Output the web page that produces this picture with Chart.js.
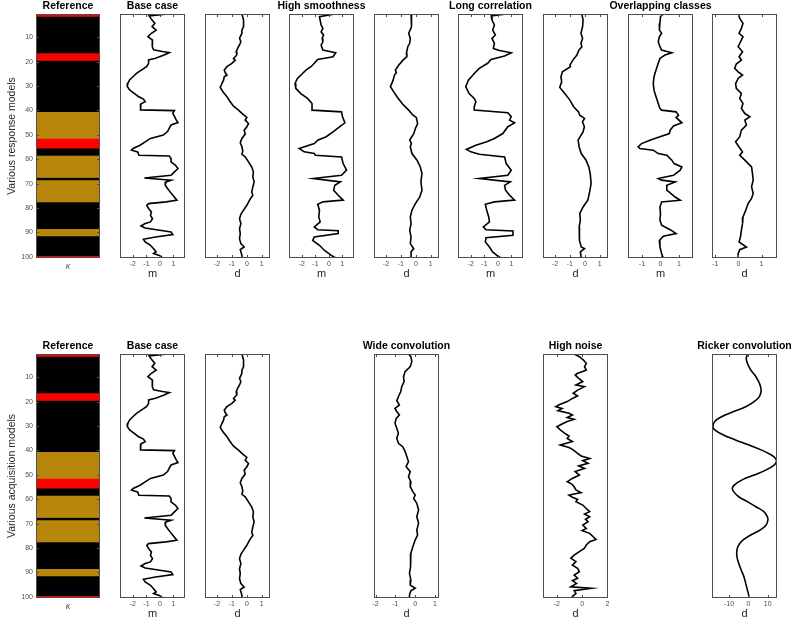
<!DOCTYPE html>
<html>
<head>
<meta charset="utf-8">
<script src="https://cdn.jsdelivr.net/npm/chart.js@4.4.1/dist/chart.umd.min.js"></script>
<style>
  body { margin: 0; background: #fff; overflow: hidden; }
  #fig { position: relative; width: 791px; height: 621px; }
  #fig canvas { position: absolute; }
</style>
</head>
<body>
<div id="fig"></div>
<script>
// reference class of each model row 1..100 (0 black, 1 gold, 2 red)
const kappa = [
  2, 0, 0, 0, 0, 0, 0, 0, 0, 0, 0, 0, 0, 0, 0, 0, 2, 2, 2, 0,
  0, 0, 0, 0, 0, 0, 0, 0, 0, 0, 0, 0, 0, 0, 0, 0, 0, 0, 0, 0,
  1, 1, 1, 1, 1, 1, 1, 1, 1, 1, 1, 2, 2, 2, 2, 0, 0, 0, 1, 1,
  1, 1, 1, 1, 1, 1, 1, 0, 1, 1, 1, 1, 1, 1, 1, 1, 1, 0, 0, 0,
  0, 0, 0, 0, 0, 0, 0, 0, 1, 1, 1, 0, 0, 0, 0, 0, 0, 0, 0, 2
];
const classColors = ["#000000", "#b8860b", "#ff0000"];
const depthTicks = [10, 20, 30, 40, 50, 60, 70, 80, 90, 100];

// [depth, value] pairs
const baseM = [[0.6,0.4],[1.3,-0.8],[3,-0.58],[4.3,-0.38],[5.7,-0.58],[7.1,-0.28],[8.4,-0.63],[9.8,-0.89],[11.2,-0.55],[12.5,-0.58],[13.9,-0.55],[15.2,-0.47],[15.9,0.18],[16.3,0.69],[17.3,0.31],[18.6,-0.33],[19.3,-0.84],[20.7,-0.84],[22,-0.97],[23.4,-1.35],[24.8,-1.73],[26.1,-1.98],[27.5,-2.24],[28.9,-2.37],[30.2,-2.41],[31.6,-2.24],[33,-1.9],[34.3,-1.6],[35.4,-1.22],[36.4,-1.09],[37.3,-1.4],[38.4,-1.47],[39.8,-1.4],[40.1,1.07],[41.2,0.95],[42.5,1.07],[43.9,1.2],[45,1.33],[46,0.82],[47.3,0.69],[48.7,0.56],[50.1,0.25],[51.5,-0.7],[52.9,-1.09],[54.3,-1.47],[55.6,-1.98],[56.3,-2.1],[57,-1.65],[58.4,-1.55],[58.7,0.69],[59.7,0.82],[61.1,0.82],[62.5,1.15],[63.8,1.33],[65.2,1.07],[66.6,0.82],[67.7,-1.15],[68.6,0.82],[69.3,0.44],[70.7,0.39],[72,0.56],[73.4,0.75],[74.8,0.95],[76.8,1.25],[77.5,0.44],[78.2,-0.84],[78.9,-0.97],[80.2,-0.84],[81.6,-0.63],[83,-0.7],[84.4,-0.55],[85.7,-0.7],[86.4,-1.09],[87.4,-1.4],[88.2,-1.09],[89.8,0.82],[90.9,0.95],[91.9,-0.33],[92.8,-1.22],[93.9,-1.09],[95.3,-0.7],[96.7,-0.47],[98,-0.28],[98.7,-0.47],[99.7,0.05],[100.5,0.18]];
const baseD = [[0.5,-0.33],[3,-0.22],[5.7,-0.22],[7.1,-0.33],[8.4,-0.33],[10.5,-0.49],[11.9,-0.4],[13.2,-0.49],[14.6,-0.62],[16,-0.71],[17.3,-0.67],[18.7,-0.89],[19.4,-0.78],[20.7,-1.0],[22.1,-1.33],[23.5,-1.51],[24.6,-1.44],[25.5,-1.33],[26.2,-1.51],[27.6,-1.56],[29,-1.67],[30.6,-1.78],[32.4,-1.6],[34.4,-1.33],[36.5,-1.11],[38.3,-0.89],[39.9,-0.56],[41.5,-0.27],[42.9,0],[44,-0.11],[45.4,0.11],[46.7,0],[48.1,-0.18],[49.7,-0.11],[51.5,-0.33],[53.3,-0.44],[54.9,-0.33],[56.6,-0.27],[58,-0.33],[59,-0.11],[61.1,0.11],[63.2,0.33],[65.2,0.44],[67.3,0.4],[69.3,0.49],[71.4,0.4],[73.4,0.33],[74.8,0.4],[76.8,0.18],[78.9,0],[80.9,-0.22],[82.6,-0.4],[84.4,-0.49],[86.4,-0.4],[88.5,-0.49],[90.5,-0.44],[92.6,-0.49],[94.6,-0.4],[96,-0.18],[97.1,-0.44],[99.4,-0.33],[100.5,-0.33]];
const smoothM = [[0.5,0.43],[1.6,-0.7],[3,-0.65],[5,-0.58],[6.4,-0.45],[7.8,-0.58],[9.1,-0.4],[10.5,-0.5],[11.9,-0.45],[13.2,-0.58],[15.3,-0.45],[16.4,0.5],[18,0.3],[19.1,-0.83],[20.7,-1.08],[22.1,-1.33],[23.5,-1.7],[24.9,-1.95],[26.9,-2.33],[29,-2.5],[31,-2.45],[33.1,-2.08],[35.1,-1.58],[37.2,-1.25],[39.9,-1.25],[40.6,0.93],[42.6,1],[45.1,1.18],[46.7,0.8],[48.8,0.3],[50.8,-0.2],[52.2,-0.83],[53.6,-1.08],[55.6,-2.2],[57,-1.83],[57.7,-1.08],[58.4,-1],[59.1,0.93],[61.8,1.05],[64.5,1.3],[66.6,0.93],[67.9,-1.15],[69.3,0.85],[70.7,0.43],[72.7,0.35],[74.8,0.68],[76.8,1.05],[77.5,-0.45],[78.5,-0.83],[80.9,-0.7],[83.7,-0.75],[85.7,-0.65],[87.8,-1.08],[88.9,-0.83],[89.3,0.68],[90.5,0.68],[91.9,-1.08],[93.3,-1.2],[95.3,-0.7],[97.4,-0.33],[99.4,0.18],[100.5,0.5]];
const smoothD = [[0.5,-0.32],[3,-0.26],[5.7,-0.32],[7,-0.38],[8.4,-0.48],[10.5,-0.37],[12.5,-0.41],[13.9,-0.54],[16.6,-0.63],[18,-0.6],[19.4,-0.86],[21.4,-1.14],[23.5,-1.37],[24.5,-1.3],[25.5,-1.43],[27.6,-1.52],[30.3,-1.7],[32.4,-1.48],[34.4,-1.26],[37.2,-0.92],[39.9,-0.48],[42,-0.19],[42.9,0.03],[45.4,0.12],[47.4,-0.03],[49.5,-0.14],[52.2,-0.41],[53.5,-0.3],[55,-0.37],[57.7,-0.26],[60.4,0.08],[63.2,0.3],[65.9,0.41],[69.3,0.34],[72.7,0.41],[75.5,0.26],[78.2,-0.03],[80.9,-0.26],[83.7,-0.37],[86.4,-0.32],[89.1,-0.41],[91.9,-0.32],[94.6,-0.37],[96.7,-0.14],[98,-0.32],[100.5,-0.32]];
const longM = [[0.5,0.6],[1.3,-0.5],[3,-0.44],[5,-0.26],[7.1,-0.39],[9.1,-0.19],[10.5,-0.44],[12.5,-0.26],[14.6,-0.34],[15.5,0.11],[16.4,0.98],[17.7,0.49],[19.1,-0.51],[20.7,-0.76],[22.8,-1.38],[24.9,-1.75],[27.6,-2.18],[30.3,-2.38],[33.1,-2.13],[35.1,-1.75],[36.5,-1.63],[38.5,-1.75],[39.9,-1.75],[41,0.73],[42.6,0.98],[44,0.86],[45.1,1.23],[46.7,0.73],[49.5,0.36],[51.5,-0.26],[52.9,-0.83],[54.3,-1.63],[56,-2.33],[57,-2],[58,-1.38],[59.1,0.49],[61.8,0.61],[64.5,0.98],[66.6,0.73],[67.9,-1.38],[69.3,0.91],[70.7,0.49],[72.7,0.56],[74.8,0.86],[76.8,1.23],[77.5,-0.26],[78.5,-0.93],[80.9,-0.83],[83.7,-0.68],[85.7,-0.63],[87.8,-1.08],[88.9,-0.88],[89.4,1.11],[91.2,1.11],[92.2,-0.88],[93.9,-0.93],[96,-0.63],[98,-0.39],[99.8,0],[100.5,0.24]];
const longD = [[0.5,-0.2],[3,-0.12],[5.7,-0.15],[8.4,-0.26],[10.5,-0.15],[12.5,-0.26],[13.9,-0.2],[15.3,-0.4],[17.3,-0.53],[19.4,-0.8],[21.4,-1.0],[22.1,-0.96],[24.2,-1.5],[26.2,-1.6],[28.3,-1.55],[30.6,-1.68],[33.1,-1.34],[35.8,-1.0],[38.5,-0.75],[40.6,-0.42],[42,-0.34],[43.3,-0.02],[44.7,-0.16],[46.7,-0.03],[48.8,-0.12],[52.2,-0.45],[55,-0.38],[57.7,-0.24],[60.4,0.08],[63.2,0.27],[65.9,0.36],[70,0.42],[73.4,0.32],[76.8,0.2],[79.6,-0.12],[82.3,-0.34],[85,-0.3],[87.8,-0.38],[90.5,-0.34],[93.3,-0.38],[96,-0.24],[96.7,-0.02],[98,-0.3],[100.5,-0.24]];
const overlapM = [[0.5,0.15],[1.6,0],[4.3,-0.03],[7.1,-0.06],[8.4,0.06],[9.8,-0.06],[11.9,-0.12],[13.9,-0.03],[15.3,0.06],[16.4,0.61],[17.3,0.24],[18.7,-0.03],[20.7,-0.12],[23.5,-0.24],[26.2,-0.35],[29,-0.39],[31.7,-0.35],[34.4,-0.24],[37.2,-0.12],[39.2,-0.03],[39.9,0.06],[40.6,0.84],[42,0.97],[42.9,0.84],[45.1,1.15],[46.4,0.7],[48.1,0.52],[49.5,0.48],[50.8,-0.03],[52.2,-0.57],[53.6,-1.02],[54.9,-1.2],[55.6,-1.11],[56.3,-0.39],[57.7,-0.12],[58.4,0.34],[60.4,0.61],[61.8,0.73],[63.2,1.15],[64.5,1.06],[66.6,0.7],[67.9,-0.12],[68.6,0.06],[69.3,0.79],[70.7,0.34],[72.7,0.34],[75.5,0.79],[76.8,1.06],[77.5,0.06],[79.6,-0.03],[82.3,0],[85,-0.03],[87.1,0.06],[88.9,0.52],[90.5,0.84],[91.6,0.15],[93.3,-0.06],[96,-0.03],[98.7,0.06],[100.5,0.15]];
const overlapD = [[0.5,0],[2.3,0.06],[4.3,0.2],[6.4,0.13],[8.4,0.03],[9.8,0.2],[11.9,0.09],[13.9,-0.01],[16,0.18],[18,0.03],[19.4,0.13],[21,-0.09],[22.8,-0.16],[24.2,-0.01],[25.5,0.18],[26.9,-0.01],[29,-0.12],[31,-0.09],[33.1,0.13],[35.1,0.06],[37.2,0.2],[39.2,0.13],[41.3,0.28],[42.6,0.5],[44,0.28],[46,0.35],[48.1,0.13],[50.8,0.06],[52.9,-0.12],[55,0.03],[57,0.18],[58.4,0.06],[60.4,0.28],[63.2,0.57],[65.9,0.61],[68.6,0.64],[71.3,0.57],[74.1,0.64],[76.1,0.57],[78.2,0.42],[80.9,0.32],[83.7,0.2],[86.4,0.18],[89.1,0.13],[91.9,0.09],[93.9,0.03],[96,0.35],[97.1,0.06],[98.7,-0.01],[100.5,-0.01]];
const wideD = [[0.5,-0.34],[1.6,-0.22],[3.6,-0.17],[5.7,-0.25],[7.7,-0.51],[9.8,-0.59],[11.8,-0.56],[13.9,-0.68],[15.9,-0.73],[18,-0.85],[19.6,-0.93],[21.4,-0.8],[22.8,-1.02],[24.1,-0.93],[25.5,-0.8],[26.9,-0.96],[28.9,-1.02],[30.9,-0.93],[33,-0.85],[35,-0.93],[37.1,-0.85],[38.5,-0.63],[40.5,-0.51],[42.6,-0.42],[44.6,-0.34],[46.7,-0.46],[48.7,-0.25],[50.8,-0.34],[52.8,-0.22],[54.9,-0.25],[56.9,-0.12],[58.3,0],[59.7,-0.08],[61.7,0.08],[64.4,0.17],[67.2,0.08],[69.9,0.17],[72.6,0.08],[74.7,0.12],[76.7,0],[79.5,-0.12],[82.2,-0.22],[84.9,-0.25],[87.7,-0.22],[90.4,-0.29],[93.1,-0.22],[95.2,-0.25],[96.5,0],[97.5,-0.22],[99.3,-0.29],[100.5,-0.29]];
const noiseD = [[0.5,-0.63],[1.6,-0.22],[3,0.11],[4.3,0.33],[5.7,0.19],[7.1,0.33],[7.7,0.05],[8.4,-0.36],[9.1,-0.55],[10.5,-0.27],[11.8,0.05],[13.2,-0.49],[13.9,0.19],[15.3,-0.36],[16.6,-0.71],[17.7,-0.36],[18.7,-0.77],[20,-1.18],[21.4,-1.86],[22.1,-2.08],[22.8,-1.59],[23.7,-1.92],[24.8,-1.04],[25.5,-0.77],[26.5,-1.18],[27.3,-0.63],[28.2,-1.18],[29.2,-1.59],[30.3,-2.0],[31.6,-1.73],[33,-1.37],[34.1,-1.04],[35.1,-1.18],[36.4,-0.77],[37.8,-1.73],[38.8,-1.04],[39.8,-0.71],[41.2,-0.36],[42.3,-0.08],[43.3,0.6],[44.2,0.05],[45.3,0.47],[46.4,-0.27],[47.4,0.19],[48.7,-0.55],[50.1,-0.22],[51.5,-0.77],[52.8,-1.18],[53.8,-0.82],[54.9,-0.63],[56.2,-0.49],[57.3,-0.08],[58.3,-1.04],[59.2,-0.77],[60.1,-0.36],[61,-0.49],[62.4,0.05],[63.8,0.33],[65.1,0.6],[66.1,0.19],[67.2,0.6],[68.3,0.27],[69.2,0.47],[70.6,0.05],[72,0.33],[72.9,0],[74,0.6],[75.4,0.88],[76.5,1.1],[77.4,0.6],[78.8,0.33],[80.1,0.19],[81.5,-0.22],[82.9,-0.63],[84.2,-0.9],[85.6,-0.49],[87,-0.77],[88.3,-0.36],[89.7,-0.22],[91.1,-0.63],[92.4,-0.36],[93.4,-0.77],[94.5,-0.44],[95.9,-0.9],[96.5,0.74],[97.5,-0.63],[98.6,-0.49],[99.9,-0.77],[100.5,-0.82]];
const rickerD = [[0.5,-0.5],[2.3,-1.1],[4.3,-0.5],[7,1.2],[9.8,3.9],[12.5,5.7],[15.3,6.6],[18,5.7],[20,3],[22.1,-1.4],[24.1,-7.6],[26.2,-13.8],[28.2,-17.4],[30.3,-18.3],[31.6,-17.4],[33.7,-12.9],[35.7,-6.7],[37.8,0.4],[39.8,6.6],[41.9,11.9],[43.3,14],[44.6,14.5],[46,13.3],[48,9.2],[50.1,3],[52.1,-3.2],[54.2,-7.3],[55.6,-8.3],[56.9,-7.6],[59,-5],[61,-0.5],[63.1,3.9],[65.1,8],[67.2,9.8],[68.5,10.1],[70.6,9.2],[72.6,6.2],[74.7,1.2],[76.7,-2.7],[78.8,-5],[80.8,-5.9],[83.6,-5.9],[86.3,-5],[89,-3.7],[91.8,-2.3],[94.5,-1.4],[97.2,-0.5],[100,0.4]];

const mTicks = [-2, -1, 0, 1];
const dTicks = [-2, -1, 0, 1];
const overlapTicks = [-1, 0, 1];
const noiseTicks = [-2, 0, 2];
const rickerTicks = [-10, 0, 10];

// layout of the figure
const colLeft = [36, 120, 205, 289, 374, 458, 543, 628, 712];
const rowTop = [14, 354];
const boxH = 244;
const axisH = 23;
const side = 50;
const family = "'Liberation Sans', Arial, sans-serif";
const boxColor = "#4d4d4d";
const fig = document.getElementById("fig");

const framePlugin = {
  id: "frame",
  afterDraw(chart) {
    const ctx = chart.ctx;
    const a = chart.chartArea;
    ctx.save();
    ctx.strokeStyle = boxColor;
    ctx.lineWidth = 1;
    ctx.strokeRect(Math.round(a.left) + 0.5, Math.round(a.top) + 0.5,
      Math.round(a.right - a.left) - 1, Math.round(a.bottom - a.top) - 1);
    ctx.beginPath();
    const x = chart.scales.x;
    if (x.options.ticks.display) {
      x.ticks.forEach(t => {
        const px = Math.round(x.getPixelForValue(t.value)) + 0.5;
        ctx.moveTo(px, a.bottom); ctx.lineTo(px, a.bottom - 3);
        ctx.moveTo(px, a.top); ctx.lineTo(px, a.top + 3);
      });
    }
    const y = chart.scales.y;
    if (y.options.ticks.display) {
      y.ticks.forEach(t => {
        const py = Math.round(y.getPixelForValue(t.value)) + 0.5;
        ctx.moveTo(a.left, py); ctx.lineTo(a.left + 3, py);
        ctx.moveTo(a.right, py); ctx.lineTo(a.right - 3, py);
      });
    }
    ctx.stroke();
    ctx.restore();
  }
};

function addCanvas(left, top, w, h) {
  const c = document.createElement("canvas");
  c.width = w; c.height = h;
  c.style.left = left + "px"; c.style.top = top + "px";
  c.style.width = w + "px"; c.style.height = h + "px";
  fig.appendChild(c);
  return c;
}

function titleOpts(title) {
  return {
    display: !!title, text: title || "", color: "#000",
    padding: { top: 0, bottom: 2 },
    font: { family, size: 10.5, weight: "bold", lineHeight: "12px" }
  };
}

function sideAxis(pos, w) {
  return {
    type: "linear", position: pos, display: true, min: 0, max: 1,
    afterFit: ax => { ax.width = w; },
    grid: { display: false, drawTicks: false }, border: { display: false },
    ticks: { display: false }
  };
}

function referencePanel(row, yTitle) {
  const w = colLeft[0];
  const canvas = addCanvas(0, rowTop[row] - 14, w + 64 + w, 14 + boxH + axisH);
  // contiguous runs of the same class
  const runs = [];
  kappa.forEach((c, i) => {
    const last = runs[runs.length - 1];
    if (last && last.c === c) last.end = i + 1;
    else runs.push({ c, start: i + 1, end: i + 1 });
  });
  new Chart(canvas, {
    type: "bar",
    data: {
      labels: ["κ"],
      datasets: runs.map(r => ({
        data: [[r.start - 0.5, r.end + 0.5]],
        backgroundColor: classColors[r.c],
        borderWidth: 0,
        barPercentage: 1,
        categoryPercentage: 1,
        grouped: false,
        xAxisID: "x", yAxisID: "y"
      }))
    },
    options: {
      responsive: false, animation: false, devicePixelRatio: 1, events: [],
      layout: { padding: 0 },
      plugins: { legend: { display: false }, tooltip: { enabled: false }, title: titleOpts("Reference") },
      scales: {
        x: {
          type: "category",
          afterFit: ax => { ax.height = axisH; },
          grid: { display: false, drawTicks: false }, border: { display: false },
          ticks: { display: false },
          title: { display: true, text: "κ", color: "#555", padding: { bottom: 9 },
            font: { family, size: 9, style: "italic" } }
        },
        y: {
          type: "linear", reverse: true, min: 0.5, max: 100.5, offset: false,
          afterBuildTicks: ax => { ax.ticks = depthTicks.map(v => ({ value: v })); },
          afterFit: ax => { ax.width = w; },
          grid: { display: false, drawTicks: false }, border: { display: false },
          ticks: { color: "#4d4d4d", padding: 3, font: { family, size: 7 } },
          title: { display: true, text: yTitle, color: "#262626", padding: { top: 6 },
            font: { family, size: 10.5 } }
        },
        yRight: sideAxis("right", w)
      }
    },
    plugins: [framePlugin]
  });
}

function tracePanel(row, col, p) {
  const canvas = addCanvas(colLeft[col] - side, rowTop[row] - 14, side + 65 + side, 14 + boxH + axisH);
  new Chart(canvas, {
    type: "scatter",
    data: {
      datasets: [{
        data: p.series.map(d => ({ x: d[1], y: d[0] })),
        showLine: true,
        borderColor: "#000",
        borderWidth: 1.6,
        pointRadius: 0,
        tension: p.tension || 0,
        xAxisID: "x", yAxisID: "y"
      }]
    },
    options: {
      responsive: false, animation: false, devicePixelRatio: 1, events: [],
      layout: { padding: { top: p.title ? 0 : 14 } },
      plugins: { legend: { display: false }, tooltip: { enabled: false }, title: titleOpts(p.title) },
      scales: {
        x: {
          type: "linear", min: p.min, max: p.max,
          afterBuildTicks: ax => { ax.ticks = p.ticks.map(v => ({ value: v })); },
          afterFit: ax => { ax.height = axisH; },
          grid: { display: false, drawTicks: false }, border: { display: false },
          ticks: { color: "#4d4d4d", padding: 2, maxRotation: 0, autoSkip: false,
            font: { family, size: 7 } },
          title: { display: true, text: p.label, color: "#262626", padding: 0,
            font: { family, size: 11 } }
        },
        y: {
          type: "linear", reverse: true, min: 0.5, max: 100.5, position: "left",
          afterFit: ax => { ax.width = side; },
          grid: { display: false, drawTicks: false }, border: { display: false },
          ticks: { display: false }
        },
        yRight: sideAxis("right", side)
      }
    },
    plugins: [framePlugin]
  });
}

const mRange = { min: -2.95, max: 1.85, ticks: mTicks, label: "m" };
const dRange = { min: -2.8, max: 1.55, ticks: dTicks, label: "d" };

// top row: various response models
referencePanel(0, "Various response models");
tracePanel(0, 1, { ...mRange, series: baseM, title: "Base case" });
tracePanel(0, 2, { ...dRange, series: baseD });
tracePanel(0, 3, { ...mRange, series: smoothM, title: "High smoothness" });
tracePanel(0, 4, { ...dRange, series: smoothD });
tracePanel(0, 5, { ...mRange, series: longM, title: "Long correlation" });
tracePanel(0, 6, { ...dRange, series: longD });
tracePanel(0, 7, { min: -1.75, max: 1.75, ticks: overlapTicks, label: "m", series: overlapM, title: "Overlapping classes" });
tracePanel(0, 8, { min: -1.14, max: 1.67, ticks: overlapTicks, label: "d", series: overlapD });

// bottom row: various acquisition models
referencePanel(1, "Various acquisition models");
tracePanel(1, 1, { ...mRange, series: baseM, title: "Base case" });
tracePanel(1, 2, { ...dRange, series: baseD });
tracePanel(1, 4, { min: -2.08, max: 1.2, ticks: dTicks, label: "d", series: wideD, title: "Wide convolution" });
tracePanel(1, 6, { min: -3.1, max: 2.05, ticks: noiseTicks, label: "d", series: noiseD, title: "High noise" });
tracePanel(1, 8, { min: -18.8, max: 14.8, ticks: rickerTicks, label: "d", series: rickerD, title: "Ricker convolution", tension: 0.4 });
</script>
</body>
</html>
